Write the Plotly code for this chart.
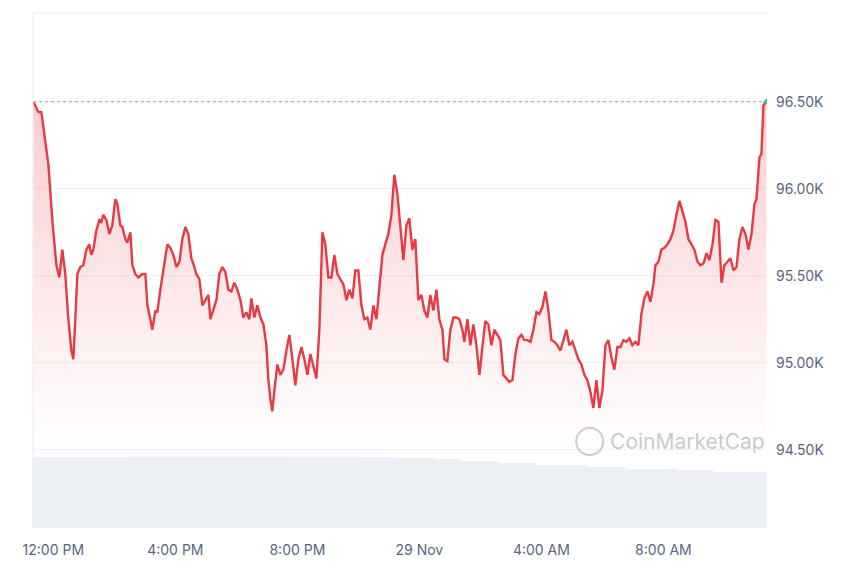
import plotly.graph_objects as go
import pandas as pd

# time offsets from 28 Nov 12:00, in units of 15 seconds
offset_q = [-157,-118,-94,-63,-39,-8,24,47,71,94,118,142,157,173,189,212,236,260,283,299,315,338,362,378,393,417,441,464,488,504,527,543,567,582,606,622,645,669,700,724,740,763,779,803,818,842,866,881,897,921,944,968,992,1015,1039,1062,1086,1110,1125,1149,1173,1196,1220,1236,1259,1283,1306,1330,1354,1377,1401,1424,1448,1472,1495,1519,1542,1558,1582,1605,1629,1653,1676,1692,1708,1723,1739,1763,1786,1810,1834,1857,1881,1904,1928,1952,1975,1999,2022,2046,2070,2093,2117,2140,2164,2188,2211,2235,2258,2282,2306,2329,2353,2376,2400,2424,2447,2471,2494,2518,2542,2565,2589,2612,2636,2660,2683,2707,2730,2754,2778,2801,2825,2848,2872,2896,2919,2943,2966,2990,3014,3037,3061,3077,3100,3124,3148,3171,3195,3218,3234,3258,3281,3305,3329,3352,3376,3399,3423,3447,3470,3494,3517,3541,3565,3588,3612,3636,3659,3683,3706,3730,3754,3777,3801,3824,3848,3872,3895,3919,3942,3966,3990,4013,4037,4060,4084,4108,4131,4155,4178,4202,4226,4249,4273,4296,4320,4344,4367,4391,4414,4438,4462,4485,4509,4532,4556,4580,4603,4627,4650,4674,4698,4721,4737,4761,4784,4808,4832,4855,4879,4902,4926,4950,4973,4997,5020,5044,5068,5091,5115,5139,5162,5186,5209,5233,5257,5280,5304,5327,5351,5375,5398,5422,5445,5469,5493,5516,5532,5556,5571,5587,5611]
price_k = [96.50,96.44,96.44,96.28,96.14,95.82,95.56,95.49,95.65,95.51,95.25,95.07,95.02,95.25,95.51,95.55,95.56,95.65,95.68,95.62,95.65,95.76,95.82,95.81,95.85,95.82,95.74,95.79,95.94,95.91,95.79,95.78,95.71,95.69,95.75,95.56,95.51,95.49,95.51,95.51,95.33,95.25,95.19,95.30,95.29,95.42,95.53,95.62,95.68,95.66,95.62,95.55,95.58,95.71,95.78,95.74,95.60,95.55,95.51,95.48,95.33,95.36,95.39,95.25,95.30,95.36,95.51,95.55,95.52,95.42,95.41,95.46,95.42,95.36,95.26,95.29,95.25,95.37,95.26,95.33,95.26,95.22,95.10,94.90,94.79,94.72,94.84,94.99,94.93,94.96,95.07,95.16,95.02,94.87,95.02,95.09,95.02,94.93,95.05,94.97,94.91,95.19,95.75,95.68,95.49,95.49,95.62,95.51,95.48,95.45,95.36,95.42,95.37,95.53,95.53,95.33,95.25,95.26,95.19,95.33,95.25,95.45,95.62,95.68,95.74,95.85,96.08,95.97,95.79,95.59,95.79,95.83,95.65,95.71,95.36,95.39,95.30,95.26,95.39,95.30,95.42,95.25,95.19,95.02,95.01,95.19,95.26,95.26,95.25,95.19,95.12,95.25,95.10,95.22,95.10,94.93,95.09,95.24,95.22,95.10,95.19,95.16,95.13,94.93,94.91,94.89,94.90,95.05,95.14,95.16,95.13,95.13,95.12,95.19,95.29,95.28,95.32,95.41,95.30,95.13,95.12,95.10,95.07,95.13,95.19,95.10,95.12,95.07,95.02,94.99,94.93,94.90,94.83,94.74,94.90,94.74,94.84,95.10,95.13,95.03,94.96,95.09,95.09,95.13,95.12,95.14,95.10,95.12,95.10,95.28,95.37,95.41,95.35,95.45,95.56,95.58,95.65,95.66,95.68,95.71,95.76,95.85,95.93,95.87,95.81,95.71,95.68,95.65,95.58,95.56,95.57,95.63,95.59,95.68,95.82,95.81,95.46,95.56,95.58,95.60,95.53,95.55,95.71,95.78,95.74,95.65,95.74,95.91,95.94,96.18,96.20,96.48,96.50]

vol_offset_q = [-160, 600, 1200, 1800, 2400, 2700, 3000, 3200, 3500, 3800, 4200, 4500, 4900, 5200, 5615]
volume = [35.5, 35.8, 35.8, 35.6, 35.5, 35.3, 34.5, 33.5, 32.5, 31.5, 30.5, 29.5, 28.8, 28.0, 27.5]

tick_labels = ["12:00 PM", "4:00 PM", "8:00 PM", "29 Nov", "4:00 AM", "8:00 AM"]
tick_hours = [0, 4, 8, 12, 16, 20]
ref_price = 96.50

base = pd.Timestamp("2024-11-28 12:00")
t = [base + pd.Timedelta(seconds=15 * q) for q in offset_q]
vt = [base + pd.Timedelta(seconds=15 * q) for q in vol_offset_q]
tv = [base + pd.Timedelta(hours=h) for h in tick_hours]
x0 = base + pd.Timedelta(seconds=15 * -160)
x1 = base + pd.Timedelta(seconds=15 * 5615)

fig = go.Figure()
fig.add_trace(go.Scatter(x=vt, y=volume, yaxis="y2", mode="lines", line=dict(width=0, shape="hv"),
                         fill="tozeroy", fillcolor="rgba(228,232,239,0.7)", hoverinfo="skip"))
fig.add_trace(go.Scatter(x=t, y=[94.5]*len(t), mode="lines", line=dict(width=0), hoverinfo="skip"))
fig.add_trace(go.Scatter(x=t, y=price_k, mode="lines", line=dict(color="#ea3943", width=2.4),
                         fill="tonexty",
                         fillgradient=dict(type="vertical",
                                           colorscale=[[0, "rgba(234,57,67,0)"], [0.4, "rgba(234,57,67,0.1)"],
                                                       [1, "rgba(234,57,67,0.25)"]])))
fig.add_trace(go.Scatter(x=[t[-1]], y=[price_k[-1]], mode="markers",
                         marker=dict(symbol="triangle-up", color="#16c784", size=7)))
fig.add_shape(type="line", xref="x", yref="y", x0=x0, x1=x1, y0=ref_price, y1=ref_price,
              line=dict(color="#9aa0a8", width=1.2, dash="dot"))
fig.add_shape(type="line", xref="paper", yref="paper", x0=0, x1=0, y0=0, y1=1,
              line=dict(color="#e6e8ec", width=1))
fig.add_shape(type="line", xref="paper", yref="paper", x0=0, x1=1, y0=1, y1=1,
              line=dict(color="#e6e8ec", width=1))
fig.add_annotation(xref="paper", yref="y", x=1.0, y=94.55, xanchor="right", yanchor="middle",
                   text="◯ CoinMarketCap", showarrow=False,
                   font=dict(family="Inter", size=21, color="#c7cbd2"))

fig.update_layout(
    width=860, height=573, showlegend=False,
    margin=dict(l=25, r=101, t=5, b=53, autoexpand=False),
    paper_bgcolor="white", plot_bgcolor="white",
    font=dict(family="Inter", color="#58667e", size=14),
    xaxis=dict(range=[x0, x1], tickvals=tv, ticktext=tick_labels, showgrid=False, tickangle=0,
               zeroline=False, showline=False, ticks="", ticklabelstandoff=12,
               tickfont=dict(size=14, color="#58667e")),
    yaxis=dict(side="right", range=[94.05, 97.01], tickvals=[94.5, 95.0, 95.5, 96.0, 96.5],
               ticktext=["94.50K", "95.00K", "95.50K", "96.00K", "96.50K"],
               showgrid=True, gridcolor="#eff1f4", zeroline=False, ticks="", ticklabelstandoff=8),
    yaxis2=dict(overlaying="y", range=[0, 257.5], visible=False),
)
fig.write_html("out.html")
